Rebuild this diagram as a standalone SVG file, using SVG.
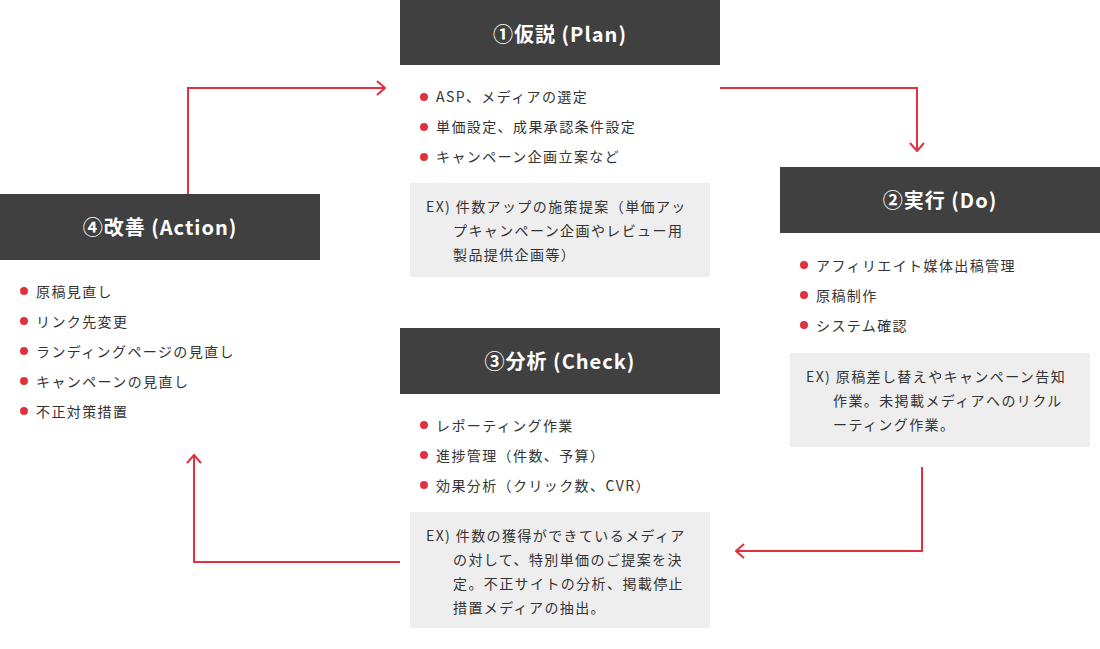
<svg xmlns="http://www.w3.org/2000/svg" width="1100" height="649" viewBox="0 0 1100 649">
<defs>
<style>
.hdr{fill:#404040}
.ttl{fill:#fff;font-family:"Noto Sans CJK JP","Noto Sans",sans-serif;font-size:20px;font-weight:bold;letter-spacing:1px;text-anchor:middle}
.txt{fill:#333;font-family:"Noto Sans CJK JP","Noto Sans",sans-serif;font-size:14px;letter-spacing:1.4px}
.dot{fill:#e0313f}
.ex{fill:#eeeeee}
.con{fill:none;stroke:#e0313f;stroke-width:2}
</style>
<marker id="arr" viewBox="0 0 10 16" refX="9" refY="8" markerWidth="10" markerHeight="16" markerUnits="userSpaceOnUse" orient="auto">
<path d="M1,1 L9,8 L1,15" fill="none" stroke="#e0313f" stroke-width="2"/>
</marker>
</defs>
<rect width="1100" height="649" fill="#fff"/>

<g id="plan">
<rect class="hdr" x="400" y="0" width="320" height="65"/>
<text class="ttl" x="560" y="42">①仮説 (Plan)</text>
<circle class="dot" cx="424" cy="97" r="4"/>
<text class="txt" x="436" y="102">ASP、メディアの選定</text>
<circle class="dot" cx="424" cy="127" r="4"/>
<text class="txt" x="436" y="132">単価設定、成果承認条件設定</text>
<circle class="dot" cx="424" cy="157" r="4"/>
<text class="txt" x="436" y="162">キャンペーン企画立案など</text>
<rect class="ex" x="410" y="183" width="300" height="94"/>
<text class="txt" x="426" y="212">EX) 件数アップの施策提案（単価アッ</text>
<text class="txt" x="453" y="236">プキャンペーン企画やレビュー用</text>
<text class="txt" x="453" y="260">製品提供企画等）</text>
</g>

<g id="do">
<rect class="hdr" x="780" y="167" width="320" height="66"/>
<text class="ttl" x="940" y="208">②実行 (Do)</text>
<circle class="dot" cx="804" cy="265" r="4"/>
<text class="txt" x="816" y="271">アフィリエイト媒体出稿管理</text>
<circle class="dot" cx="804" cy="295" r="4"/>
<text class="txt" x="816" y="301">原稿制作</text>
<circle class="dot" cx="804" cy="325" r="4"/>
<text class="txt" x="816" y="331">システム確認</text>
<rect class="ex" x="790" y="353" width="300" height="94"/>
<text class="txt" x="806" y="382">EX) 原稿差し替えやキャンペーン告知</text>
<text class="txt" x="833" y="406">作業。未掲載メディアへのリクル</text>
<text class="txt" x="833" y="430">ーティング作業。</text>
</g>

<g id="check">
<rect class="hdr" x="400" y="328" width="320" height="66"/>
<text class="ttl" x="560" y="369">③分析 (Check)</text>
<circle class="dot" cx="424" cy="425" r="4"/>
<text class="txt" x="436" y="431">レポーティング作業</text>
<circle class="dot" cx="424" cy="455" r="4"/>
<text class="txt" x="436" y="461">進捗管理（件数、予算）</text>
<circle class="dot" cx="424" cy="485" r="4"/>
<text class="txt" x="436" y="491">効果分析（クリック数、CVR）</text>
<rect class="ex" x="410" y="512" width="300" height="116"/>
<text class="txt" x="426" y="541">EX) 件数の獲得ができているメディア</text>
<text class="txt" x="453" y="565">の対して、特別単価のご提案を決</text>
<text class="txt" x="453" y="589">定。不正サイトの分析、掲載停止</text>
<text class="txt" x="453" y="613">措置メディアの抽出。</text>
</g>

<g id="action">
<rect class="hdr" x="0" y="194" width="320" height="66"/>
<text class="ttl" x="160" y="235">④改善 (Action)</text>
<circle class="dot" cx="24" cy="291" r="4"/>
<text class="txt" x="36" y="297">原稿見直し</text>
<circle class="dot" cx="24" cy="321" r="4"/>
<text class="txt" x="36" y="327">リンク先変更</text>
<circle class="dot" cx="24" cy="351" r="4"/>
<text class="txt" x="36" y="357">ランディングページの見直し</text>
<circle class="dot" cx="24" cy="381" r="4"/>
<text class="txt" x="36" y="387">キャンペーンの見直し</text>
<circle class="dot" cx="24" cy="411" r="4"/>
<text class="txt" x="36" y="417">不正対策措置</text>
</g>

<g id="connectors">
<path class="con" d="M188,194 V88 H385" marker-end="url(#arr)"/>
<path class="con" d="M720,88 H917 V151" marker-end="url(#arr)"/>
<path class="con" d="M922,467 V551 H736" marker-end="url(#arr)"/>
<path class="con" d="M400,562 H194 V455" marker-end="url(#arr)"/>
</g>
</svg>
